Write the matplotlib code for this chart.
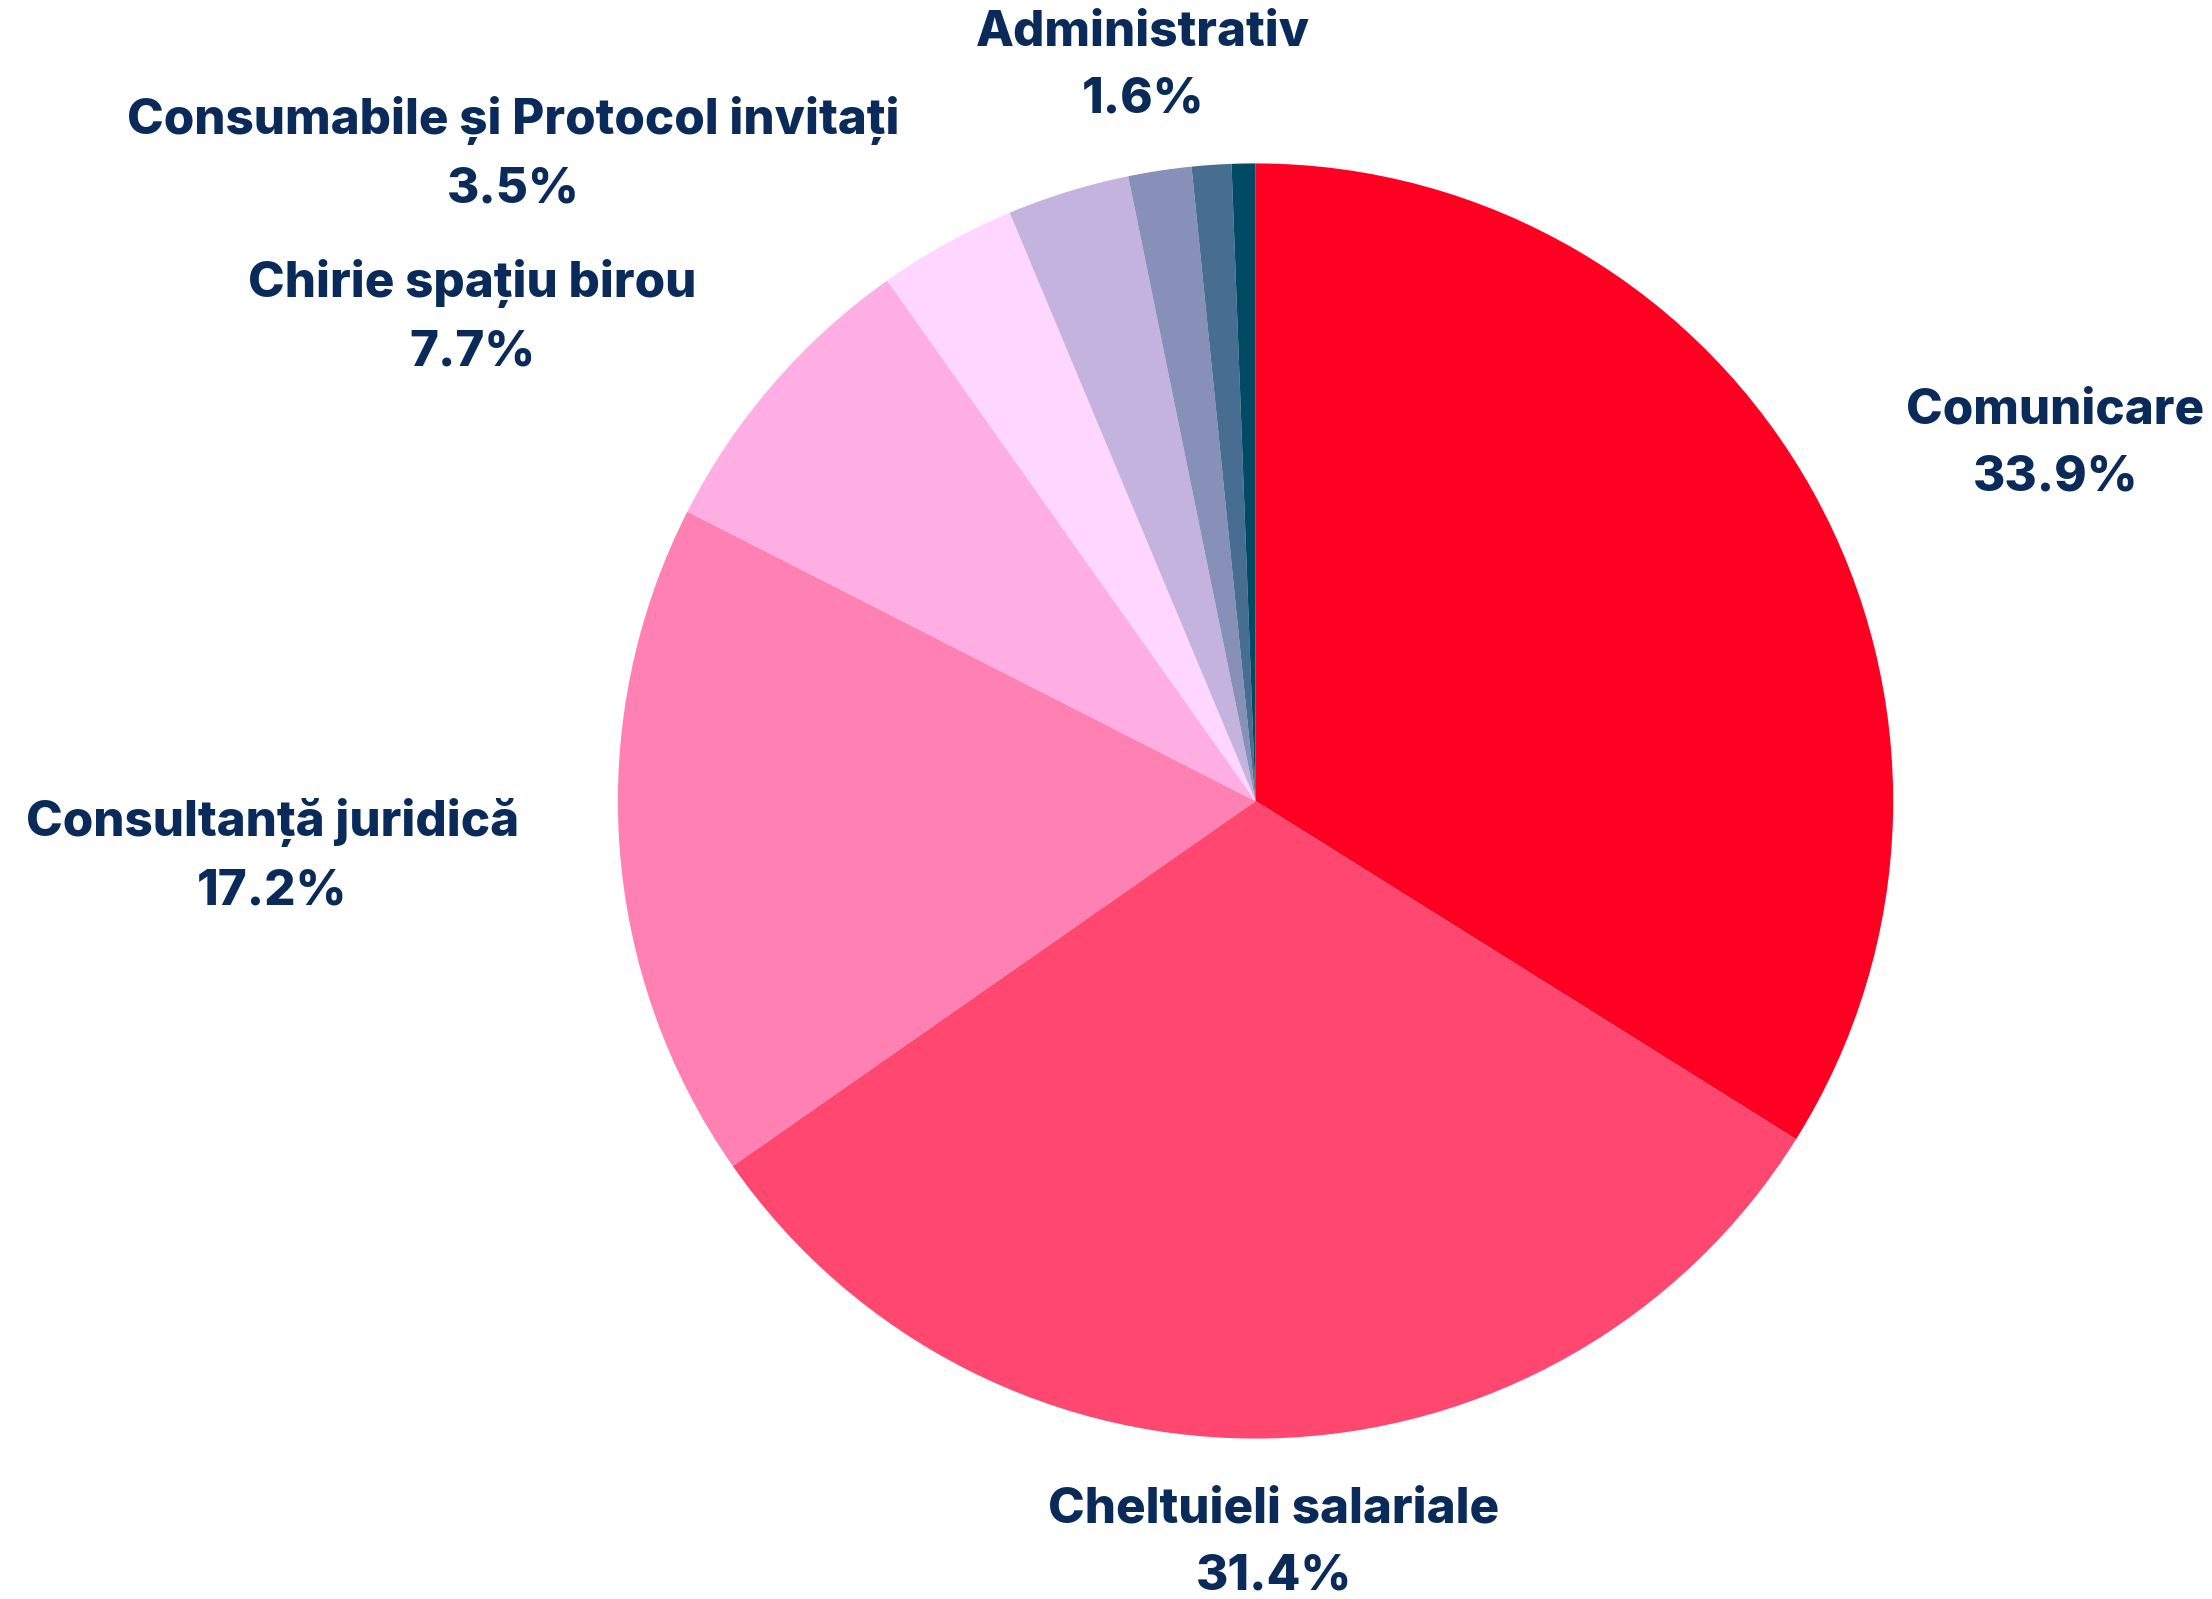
import matplotlib.pyplot as plt
import numpy as np

# slice data, clockwise from 12 o'clock
categories = ['Comunicare', 'Cheltuieli salariale', 'Consultanță juridică',
              'Chirie spațiu birou', 'Consumabile și Protocol invitați',
              'Altele', 'Administrativ', 'Altele 2', 'Altele 3']
values = [33.9, 31.4, 17.2, 7.7, 3.5, 3.1, 1.6, 1.0, 0.6]
show_label = [True, True, True, True, True, False, True, False, False]
colors = ['#ff0022', '#ff476f', '#ff80b2', '#ffaee3', '#ffd6ff',
          '#c4b3de', '#8690b8', '#476d90', '#004b63']

# label positions in units of pie radius (layout only)
label_pos = {
    'Comunicare': (1.254, 0.56),
    'Cheltuieli salariale': (0.029, -1.164),
    'Consultanță juridică': (-1.542, -0.086),
    'Chirie spațiu birou': (-1.228, 0.759),
    'Consumabile și Protocol invitați': (-1.164, 1.015),
    'Administrativ': (-0.177, 1.153),
}

text_color = '#0a2a5a'
plt.rcParams['font.family'] = ['Inter', 'DejaVu Sans']

fig = plt.figure(figsize=(22.12, 15.99), dpi=100)
ax = fig.add_axes([0, 0, 1, 1])

ax.pie(values, colors=colors, startangle=90, counterclock=False,
       radius=1.0, wedgeprops=dict(linewidth=0))

total = sum(values)
for name, v, show in zip(categories, values, show_label):
    if not show:
        continue
    x, y = label_pos[name]
    ax.text(x, y, f"{name}\n{v / total * 100:.1f}%", ha='center', va='center',
            fontsize=35.5, fontweight='heavy', color=text_color, linespacing=1.6)

ax.set_xlim(-1.969, 1.500)
ax.set_ylim(-1.2516, 1.2563)
ax.set_aspect('auto')
ax.axis('off')

fig.savefig('out.png', dpi=100)
